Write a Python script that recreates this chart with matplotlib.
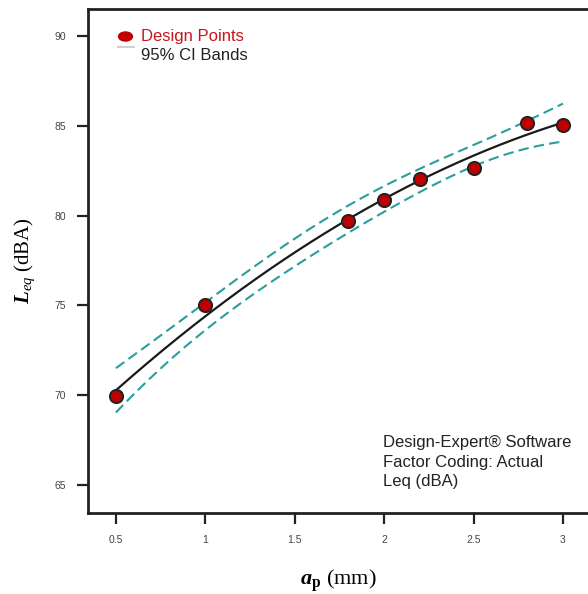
import numpy as np
import matplotlib
matplotlib.use("Agg")
import matplotlib.pyplot as plt
from matplotlib.lines import Line2D
from matplotlib.path import Path
from matplotlib.transforms import Affine2D

plt.rcParams['font.family'] = ['Liberation Sans', 'DejaVu Sans']
plt.rcParams['mathtext.fontset'] = 'custom'
plt.rcParams['mathtext.rm'] = 'Liberation Serif'
plt.rcParams['mathtext.it'] = 'Liberation Serif:italic'
plt.rcParams['mathtext.bf'] = 'Liberation Serif:bold'
plt.rcParams['mathtext.bfit'] = 'Liberation Serif:bold:italic'

# design points
ap = [0.5, 1.0, 1.8, 2.0, 2.2, 2.5, 2.8, 3.0]
leq = [69.94, 75.0, 79.67, 80.84, 82.04, 82.65, 85.17, 85.06]
x_ticks = [0.5, 1, 1.5, 2, 2.5, 3]
x_tick_labels = ['0.5', '1', '1.5', '2', '2.5', '3']
y_ticks = [65, 70, 75, 80, 85, 90]

# quadratic model and 95% confidence band, fitted to the design points
x = np.array(ap)
y = np.array(leq)
X = np.column_stack([np.ones_like(x), x, x**2])
beta, res, _, _ = np.linalg.lstsq(X, y, rcond=None)
dof = len(x) - 3
s2 = np.sum((y - X @ beta)**2) / dof
XtX_inv = np.linalg.inv(X.T @ X)
t_crit = 2.571  # t(0.975, 5)
xg = np.linspace(0.5, 3.0, 200)
Xg = np.column_stack([np.ones_like(xg), xg, xg**2])
fit = Xg @ beta
se = np.sqrt(s2 * np.einsum('ij,jk,ik->i', Xg, XtX_inv, Xg))

fig = plt.figure(figsize=(5.88, 5.94), dpi=100)
ax = fig.add_axes([88/588, 81/594, 1 - 88/588, (513 - 9)/594])

ax.plot(xg, fit + t_crit*se, color='#2a9d9d', lw=1.5, ls=(0, (5, 2.5)))
ax.plot(xg, fit - t_crit*se, color='#2a9d9d', lw=1.5, ls=(0, (5, 2.5)))
ax.plot(xg, fit, color='#1a1a1a', lw=1.6)
ax.scatter(ap, leq, s=90, color='#c00000', edgecolors='#222222', linewidths=1.4, zorder=5)

ax.set_xlim(0.344, 3.14)
ax.set_ylim(63.44, 91.5)
ax.set_xticks(x_ticks)
ax.set_xticklabels(x_tick_labels)
ax.set_yticks(y_ticks)
ax.spines['right'].set_visible(False)
for sp in ['left', 'top', 'bottom']:
    ax.spines[sp].set_linewidth(2)
    ax.spines[sp].set_color('#222222')
ax.tick_params(direction='out', length=8, width=1.6, color='#222222',
               labelsize=7.5, labelcolor='#444444', pad=8)

ax.set_xlabel(r'$\mathbfit{a}_{\mathbf{p}}$' + ' (mm)', family='Liberation Serif',
              fontsize=16, labelpad=16)
ax.set_ylabel(r'$\mathbfit{L}_{eq}$' + ' (dBA)', family='Liberation Serif',
              fontsize=15, labelpad=12)

# legend, drawn by hand
ellipse = Path.unit_circle().transformed(Affine2D().scale(1.0, 0.65))
fig.add_artist(Line2D([125/588], [1 - 36/594], ls='none', marker=ellipse,
                      markersize=10, color='#c00000'))
fig.add_artist(Line2D([118/588, 134/588], [1 - 47/594, 1 - 47/594],
                      color='#d0d0d0', lw=1.5))
fig.text(141/588, 1 - 37/594, 'Design Points', fontsize=12, color='#c8161d', va='center')
fig.text(141/588, 1 - 56/594, '95% CI Bands', fontsize=12, color='#222222', va='center')

ax.text(383/588, 1 - 462/594, 'Design-Expert\u00ae Software\nFactor Coding: Actual\nLeq (dBA)',
        transform=fig.transFigure, fontsize=12, color='#222222', va='center',
        linespacing=1.38)

fig.savefig('out.png', dpi=100)
